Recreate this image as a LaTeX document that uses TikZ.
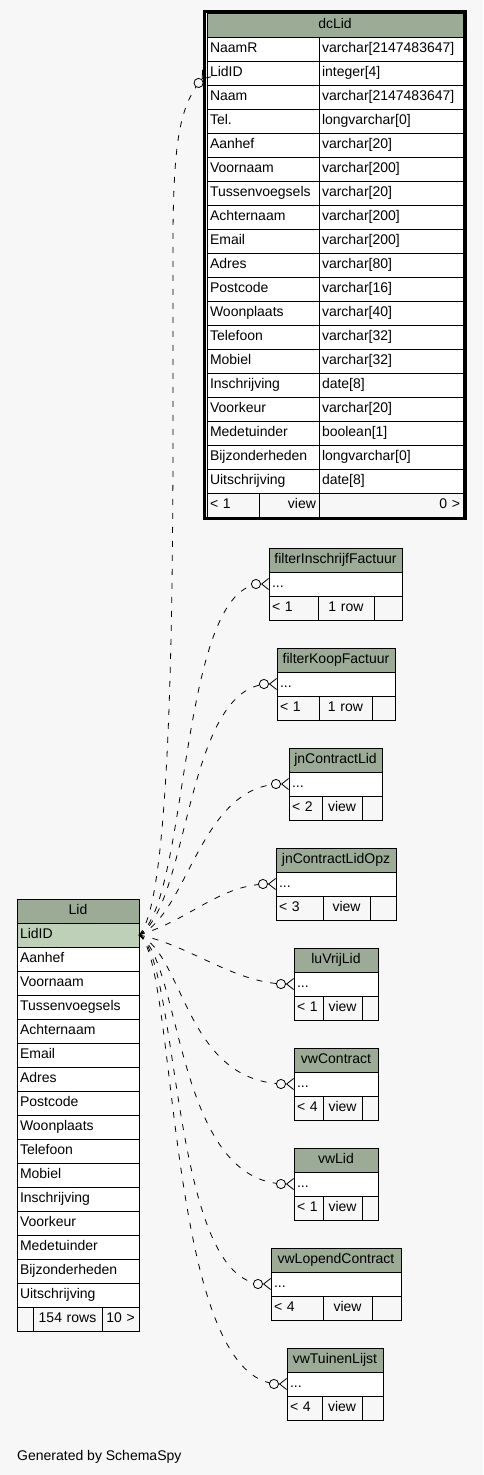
\documentclass[tikz,border=0pt]{standalone}
\usepackage{fontspec}
\setmainfont{Liberation Sans}
\usetikzlibrary{arrows.meta}
\definecolor{pagebg}{HTML}{F7F7F7}
\definecolor{hdrgreen}{HTML}{9BAB96}
\definecolor{keygreen}{HTML}{BED1B8}

\begin{document}
\begin{tikzpicture}[
  x=1pt, y=-1pt,
  every node/.style={font=\fontsize{14}{16}\selectfont},
  cellbase/.style={draw, line width=0.8pt, anchor=north west, outer sep=0pt,
    minimum height=24pt, inner xsep=3pt, inner ysep=0pt, text height=10pt, text depth=3pt},
  tblhead/.style={cellbase, fill=hdrgreen, align=center, text width=#1},
  tblcell/.style={cellbase, fill=white, align=left, text width=#1},
  keycell/.style={cellbase, fill=keygreen, align=left, text width=#1},
  footcell/.style={cellbase, text width=#1},
  rel/.style={line width=0.8pt, dash pattern=on 6pt off 8pt,
    -{Circle[fill=pagebg,length=10pt,width=10pt] Straight Barb[reversed,length=7pt,width=11pt]}}
]
% Page
\fill[pagebg] (0,0) rectangle (483,1475);
\useasboundingbox (0,0) rectangle (483,1475);

% Table dcLid
\node[tblhead=250pt] (dc-head) at (207,13) {dcLid};
\foreach \fname/\ftype [count=\i] in {NaamR/varchar[2147483647], LidID/integer[4],
    Naam/varchar[2147483647], Tel./longvarchar[0], Aanhef/varchar[20],
    Voornaam/varchar[200], Tussenvoegsels/varchar[20], Achternaam/varchar[200],
    Email/varchar[200], Adres/varchar[80], Postcode/varchar[16],
    Woonplaats/varchar[40], Telefoon/varchar[32], Mobiel/varchar[32],
    Inschrijving/date[8], Voorkeur/varchar[20], Medetuinder/boolean[1],
    Bijzonderheden/longvarchar[0], Uitschrijving/date[8]} {
  \node[tblcell=106pt] (dc-n\i) at (207,{13+24*\i}) {\fname};
  \node[tblcell=138pt] (dc-t\i) at (319,{13+24*\i}) {\ftype};
}
\node[footcell=46pt, align=left] (dc-f1) at (207,493) {< 1};
\node[footcell=54pt, align=right] (dc-f2) at (259,493) {view};
\node[footcell=138pt, align=right] (dc-f3) at (319,493) {0 >};
\draw[line width=3pt] (204.5,11.5) rectangle (465.5,518.5);

% Table Lid
\node[tblhead=116pt] (lid-head) at (17,899) {Lid};
\node[keycell=116pt] (lid-n1) at (17,923) {LidID};
\foreach \fname [count=\i from 2] in {Aanhef, Voornaam, Tussenvoegsels, Achternaam,
    Email, Adres, Postcode, Woonplaats, Telefoon, Mobiel, Inschrijving, Voorkeur,
    Medetuinder, Bijzonderheden, Uitschrijving}
  \node[tblcell=116pt] (lid-n\i) at (17,{899+24*\i}) {\fname};
\node[footcell=10pt] (lid-f1) at (17,1307) {};
\node[footcell=63pt, align=center] (lid-f2) at (33,1307) {154 rows};
\node[footcell=31pt, align=center] (lid-f3) at (102,1307) {10 >};

% Views and filters
\foreach \tname/\tkey/\lx/\ty/\sa/\sb/\rx/\fl/\fm in {
    filterInschrijfFactuur/fif/269/548/318/374/402/{< 1}/{1 row},
    filterKoopFactuur/fkf/277/648/319/372/395/{< 1}/{1 row},
    jnContractLid/jcl/289/748/322/362/382/{< 2}/view,
    jnContractLidOpz/jco/276/848/323/370/396/{< 3}/view,
    luVrijLid/lvl/294/948/323/362/378/{< 1}/view,
    vwContract/vwc/294/1048/323/362/378/{< 4}/view,
    vwLid/vwl/294/1148/323/362/378/{< 1}/view,
    vwLopendContract/vlc/271/1248/323/372/401/{< 4}/view,
    vwTuinenLijst/vtl/287/1348/322/362/383/{< 4}/view} {
  \pgfmathsetmacro\wt{\rx-\lx-6}
  \pgfmathsetmacro\wa{\sa-\lx-6}
  \pgfmathsetmacro\wb{\sb-\sa-6}
  \pgfmathsetmacro\wc{\rx-\sb-6}
  \node[tblhead=\wt pt] (\tkey-head) at (\lx,\ty) {\tname};
  \node[tblcell=\wt pt] (\tkey-row) at (\lx,\ty+24) {...};
  \node[footcell=\wa pt, align=left] (\tkey-f1) at (\lx,\ty+48) {\fl};
  \node[footcell=\wb pt, align=center] (\tkey-f2) at (\sa,\ty+48) {\fm};
  \node[footcell=\wc pt] (\tkey-f3) at (\sb,\ty+48) {};
}

% Implied relationships
\draw[rel] (lid-n1.east) .. controls (180,895) and (172,420) .. (173,230)
  .. controls (174,140) and (180,105) .. (dc-n2.west);
\draw[rel] (lid-n1.east) .. controls (190,900) and (178,584) .. (fif-row.west);
\draw[rel] (lid-n1.east) .. controls (190,905) and (185,684) .. (fkf-row.west);
\draw[rel] (lid-n1.east) .. controls (188,915) and (200,784) .. (jcl-row.west);
\draw[rel] (lid-n1.east) .. controls (190,920) and (220,884) .. (jco-row.west);
\draw[rel] (lid-n1.east) .. controls (190,945) and (235,984) .. (lvl-row.west);
\draw[rel] (lid-n1.east) .. controls (185,955) and (185,1084) .. (vwc-row.west);
\draw[rel] (lid-n1.east) .. controls (182,960) and (175,1184) .. (vwl-row.west);
\draw[rel] (lid-n1.east) .. controls (180,960) and (170,1284) .. (vlc-row.west);
\draw[rel] (lid-n1.east) .. controls (178,960) and (165,1384) .. (vtl-row.west);

% Footer
\node[anchor=base west, inner sep=0pt] (credit) at (17,1460) {Generated by SchemaSpy};
\end{tikzpicture}
\end{document}
